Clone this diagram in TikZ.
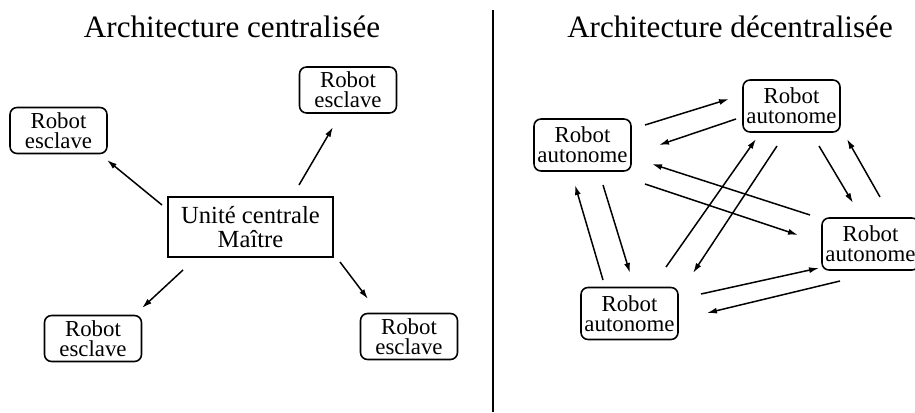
\documentclass[tikz,border=0pt]{standalone}
\usepackage{fontspec}
\setmainfont{Liberation Serif}
\usetikzlibrary{arrows.meta, positioning, calc}

\tikzset{
  robot/.style={draw, line width=0.9pt, rounded corners=4pt, align=center,
    minimum width=1.94cm, inner sep=0pt, font=\fontsize{13}{11.5}\selectfont},
  maitre/.style={draw, line width=0.9pt, align=center, minimum width=3.3cm,
    minimum height=1.2cm, inner sep=0pt, font=\fontsize{14}{13.5}\selectfont},
  fleche/.style={line width=0.85pt, -{Latex[length=2mm, width=1.2mm]}},
  titre/.style={font=\fontsize{17.7}{20}\selectfont, anchor=base}
}

\begin{document}
\begin{tikzpicture}[x=0.02cm, y=-0.02cm]
  \useasboundingbox (0,0) rectangle (915,412);

  % titres et separation
  \node[titre] (t1) at (232,38) {Architecture centralisée};
  \node[titre] (t2) at (730,38) {Architecture décentralisée};
  \draw[line width=1.1pt] (493,10) -- (493,412);

  % architecture centralisee
  \node[maitre] (m) at (250.5,227) {Unité centrale\\Maître};
  \node[robot, minimum height=0.92cm] (tl) at (58.5,130.5) {Robot\\esclave};
  \node[robot, minimum height=0.92cm] (tr) at (348,90) {Robot\\esclave};
  \node[robot, minimum height=0.92cm] (bl) at (93,338.5) {Robot\\esclave};
  \node[robot, minimum height=0.92cm] (br) at (409,336.5) {Robot\\esclave};

  \foreach \a/\ax/\ay/\b/\bx/\by in {
      m/-88.5/-22/tl/48.5/29.5,
      m/48.5/-42/tr/-15/37,
      m/-67.5/43/bl/49/-30.5,
      m/89.5/35/br/-41/-37.5}
    \draw[fleche] ($(\a)+(\ax,\ay)$) -- ($(\b)+(\bx,\by)$);

  % architecture decentralisee
  \node[robot, minimum height=1.04cm] (ra) at (791.5,106) {Robot\\autonome};
  \node[robot, minimum height=1.04cm] (rb) at (582.5,145) {Robot\\autonome};
  \node[robot, minimum height=1.04cm] (rc) at (870.5,244) {Robot\\autonome};
  \node[robot, minimum height=1.04cm] (rd) at (629.5,313.5) {Robot\\autonome};

  \foreach \a/\ax/\ay/\b/\bx/\by in {
      rb/62.5/-20/ra/-62.5/-7,
      ra/-55.5/13/rb/76.5/0,
      rd/36.5/-46.5/ra/-35.5/33,
      ra/-14.5/40/rd/63.5/-40.5,
      ra/27.5/40/rc/-17.5/-41,
      rc/9.5/-47/ra/55.5/33,
      rc/-60.5/-29/rb/69.5/19,
      rb/62.5/39/rc/-72.5/-9,
      rd/-26.5/-33.5/rb/-7.5/40,
      rb/20.5/40/rd/0.5/-40.5,
      rd/71.5/-19.5/rc/-51.5/24,
      rc/-30.5/37/rd/77.5/-0.5}
    \draw[fleche] ($(\a)+(\ax,\ay)$) -- ($(\b)+(\bx,\by)$);
\end{tikzpicture}
\end{document}
